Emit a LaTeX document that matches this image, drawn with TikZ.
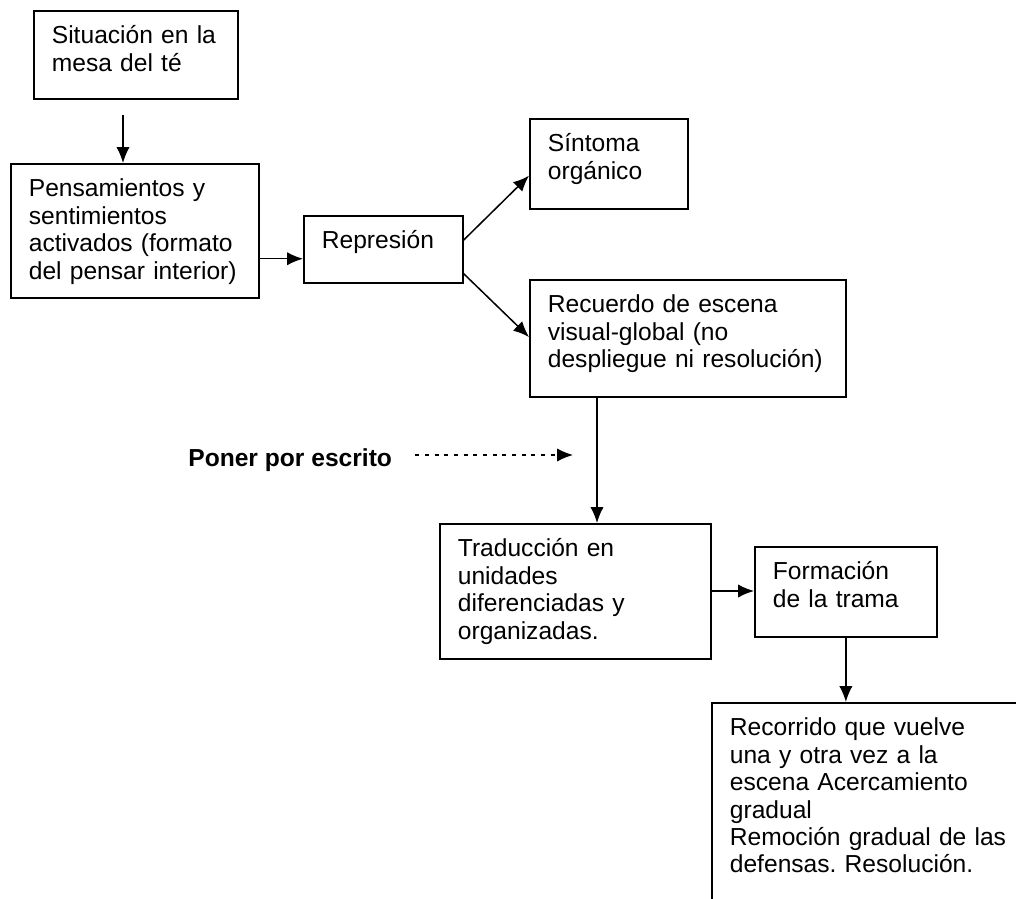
\documentclass[tikz,border=0pt]{standalone}
\usepackage{fontspec}
\setmainfont{Liberation Sans}
\frenchspacing
\usetikzlibrary{calc,arrows.meta}
\tikzset{
  box/.style = {draw, line width = 1pt, anchor = north west, align = left,
  inner xsep = .36cm, inner ysep = 0pt, text height = .66cm},
  arr/.style = {line width = .85pt, -{Latex[length = 9pt, width = 7.5pt]}},
  boldtext/.style = {font = \fontsize{14}{15.6}\selectfont\bfseries,
  inner sep = 0pt, anchor = base west}
}
\begin{document}
\begin{tikzpicture}[x = .02cm, y = -.02cm,
  font = \fontsize{14}{15.6}\selectfont]
  \useasboundingbox (0, 0) rectangle (1016, 898);
  \clip (0, 0) rectangle (1016, 898);
  \node[box, text width = 3.36cm, text depth = 1.10cm] (situacion) at (33, 10)
  {Situación en la\\mesa del té};
  \node[box, text width = 4.24cm, text depth = 2.02cm] (pensamientos) at (10, 163)
  {Pensamientos y\\sentimientos\\activados (formato\\del pensar interior)};
  \node[box, text width = 2.46cm, text depth = .68cm] (represion) at (303, 215)
  {Represión};
  \node[box, text width = 2.44cm, text depth = 1.14cm] (sintoma) at (529, 118)
  {Síntoma\\orgánico};
  \node[box, text width = 5.60cm, text depth = 1.68cm] (recuerdo) at (529, 279)
  {Recuerdo de escena\\visual-global (no\\despliegue ni resolución)};
  \node[box, text width = 4.70cm, text depth = 2.04cm] (traduccion) at (439, 523)
  {Traducción en\\unidades\\diferenciadas y\\organizadas.};
  \node[box, text width = 2.92cm, text depth = 1.14cm] (formacion) at (754, 546)
  {Formación\\de la trama};
  \node[box, text width = 6.08cm, text depth = 3.74cm] (recorrido) at (711, 702)
  {Recorrido que vuelve\\una y otra vez a la\\escena Acercamiento\\gradual\\
  Remoción gradual de las\\defensas. Resolución.};
  \node[boldtext] (escrito) at (188, 466) {Poner por escrito};

  \coordinate (s1) at ($(situacion.south west) + (90, 15)$);
  \draw[arr] (s1) -- (s1 |- pensamientos.north);
  \coordinate (p1) at ($(represion.south west) + (0, -25)$);
  \draw[arr] (p1 -| pensamientos.east) -- (p1);
  \draw[arr] ($(represion.north east) + (0, 25)$) --
  ($(sintoma.south west) + (0, -34)$);
  \draw[arr] ($(represion.south east) + (0, -10)$) --
  ($(recuerdo.north west) + (0, 58)$);
  \coordinate (r1) at ($(recuerdo.south west) + (68, 0)$);
  \draw[arr] (r1) -- (r1 |- traduccion.north);
  \coordinate (t1) at ($(traduccion.north east) + (0, 68)$);
  \draw[arr] (t1) -- (t1 -| formacion.west);
  \draw[arr] (formacion.south) -- (formacion.south |- recorrido.north);
  \coordinate (dtip) at (573, 455);
  \draw[arr, dash pattern = on 2.3pt off 3.2pt] (escrito.east |- dtip) ++(23, 0)
  -- (dtip);
\end{tikzpicture}
\end{document}
